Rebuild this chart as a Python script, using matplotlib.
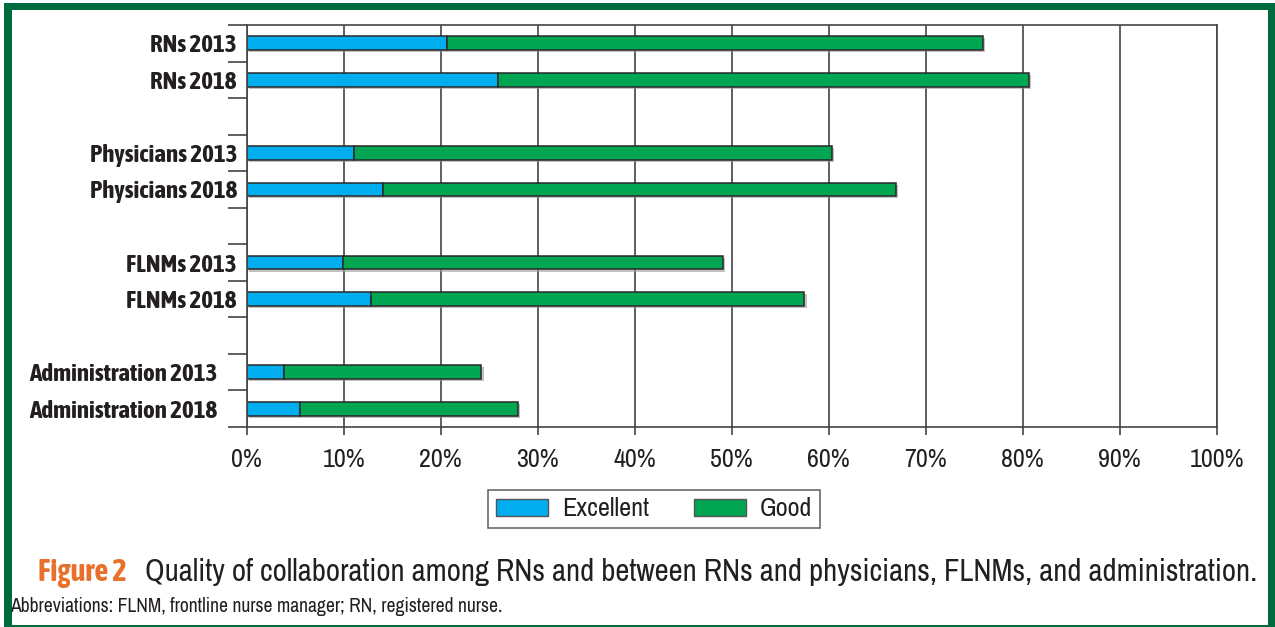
import matplotlib.pyplot as plt
import matplotlib.patheffects as pe
from matplotlib.patches import Rectangle, Patch
from matplotlib import font_manager
import numpy as np

# data (percent of respondents)
groups = ['RNs', 'Physicians', 'FLNMs', 'Administration']
years = ['2013', '2018']
excellent = [20.6, 25.9, 11.1, 14.1, 9.9, 12.8, 3.8, 5.5]
good = [55.3, 54.7, 49.2, 52.8, 39.2, 44.7, 20.4, 22.5]
xticks = [0, 10, 20, 30, 40, 50, 60, 70, 80, 90, 100]

blue = '#00aeef'
green = '#00a651'
frame = '#006b3f'
ink = '#231f20'


def wnum(w):
    if isinstance(w, str):
        return font_manager.weight_dict.get(w, 400)
    return w


# narrow faces: one for plain text, one that has a bold
order = []
fams = {}
for f in font_manager.fontManager.ttflist:
    if 'Narrow' in f.name or 'Condensed' in f.name:
        if f.name not in fams:
            order.append(f.name)
        fams.setdefault(f.name, set()).add(wnum(f.weight))
bold_fams = sorted(n for n, ws in fams.items() if max(ws) >= 600)
if order:
    FONT = [order[0], 'DejaVu Sans']
    FONTB = [bold_fams[0] if bold_fams else order[0], 'DejaVu Sans']
    k = 1.0
else:
    FONT = FONTB = ['Liberation Sans', 'DejaVu Sans']
    k = 0.84

labels = [g + ' ' + y for g in groups for y in years]
# each group takes two rows, then an empty row
pos = []
for gi in range(len(groups)):
    for yi in range(len(years)):
        pos.append(gi * (len(years) + 1) + yi + 0.5)
nrows = len(groups) * (len(years) + 1) - 1

fig = plt.figure(figsize=(12.75, 6.27), dpi=100)
ax = fig.add_axes([246.7/1275, 1-427/627, 970/1275, 402/627])
ax.set_axisbelow(True)

shadow = [pe.SimplePatchShadow(offset=(1.5, -1.5), shadow_rgbFace='#999999', alpha=0.6), pe.Normal()]
b1 = ax.barh(pos, excellent, height=0.38, color=blue, edgecolor='#2a2a2a', linewidth=1.1)
b2 = ax.barh(pos, good, left=excellent, height=0.38, color=green, edgecolor='#2a2a2a', linewidth=1.1)
for b in list(b1) + list(b2):
    b.set_path_effects(shadow)

ax.set_xlim(0, 100)
ax.set_ylim(nrows, 0)
ax.set_xticks(xticks)
ax.set_xticklabels([f'{v}%' for v in xticks], fontsize=18.8*k, family=FONT, color=ink)
ax.xaxis.grid(True, color='#444444', linewidth=1.2)
ax.tick_params(axis='x', length=6, width=1.2, color='#444444', pad=9)

ax.set_yticks(pos)
ax.set_yticklabels(labels, fontsize=18*k, fontweight='bold', family=FONTB, color=ink)
ax.set_yticks(np.arange(nrows + 1), minor=True)
ax.tick_params(axis='y', which='major', length=0, pad=7)
ax.tick_params(axis='y', which='minor', length=14, width=1.2, color='#444444')
for t, lab in zip(ax.yaxis.get_major_ticks(), labels):
    if lab.startswith('Administration'):
        t.set_pad(21)

for s in ax.spines.values():
    s.set_color('#444444')
    s.set_linewidth(1.2)

# legend
handles = [Patch(facecolor=blue, edgecolor='#555555', label='Excellent'),
           Patch(facecolor=green, edgecolor='#555555', label='Good')]
leg = fig.legend(handles=handles, ncol=2, loc='center', bbox_to_anchor=(654/1275, 1-509/627),
                 prop={'family': FONT, 'size': 18.8*k}, frameon=True, fancybox=False,
                 edgecolor='#444444', handlelength=2.0, handleheight=0.65,
                 handletextpad=0.55, columnspacing=1.7, borderpad=0.3, borderaxespad=0)
leg.get_frame().set_linewidth(1.2)
for t in leg.get_texts():
    t.set_color(ink)

# caption
fig.text(38/1275, 1-581/627, 'Figure 2', fontsize=22*k, fontweight='bold', family=FONTB,
         color='#e8702a', va='baseline')
fig.text(145/1275, 1-581/627,
         'Quality of collaboration among RNs and between RNs and physicians, FLNMs, and administration.',
         fontsize=22.2*k, family=FONT, color=ink, va='baseline')
fig.text(10/1275, 1-612/627, 'Abbreviations: FLNM, frontline nurse manager; RN, registered nurse.',
         fontsize=14.1*k, family=FONT, color=ink, va='baseline')

# green frame around the figure
W, H = 1275, 627
for x0, y0, w, h in [(4, 0, 8, 624), (4, 617, 1271, 7), (1268, 0, 7, 624), (4, 0, 1271, 2)]:
    fig.patches.append(Rectangle((x0/W, y0/H), w/W, h/H, transform=fig.transFigure,
                                 facecolor=frame, edgecolor='none'))

fig.savefig('out.png', dpi=100)
